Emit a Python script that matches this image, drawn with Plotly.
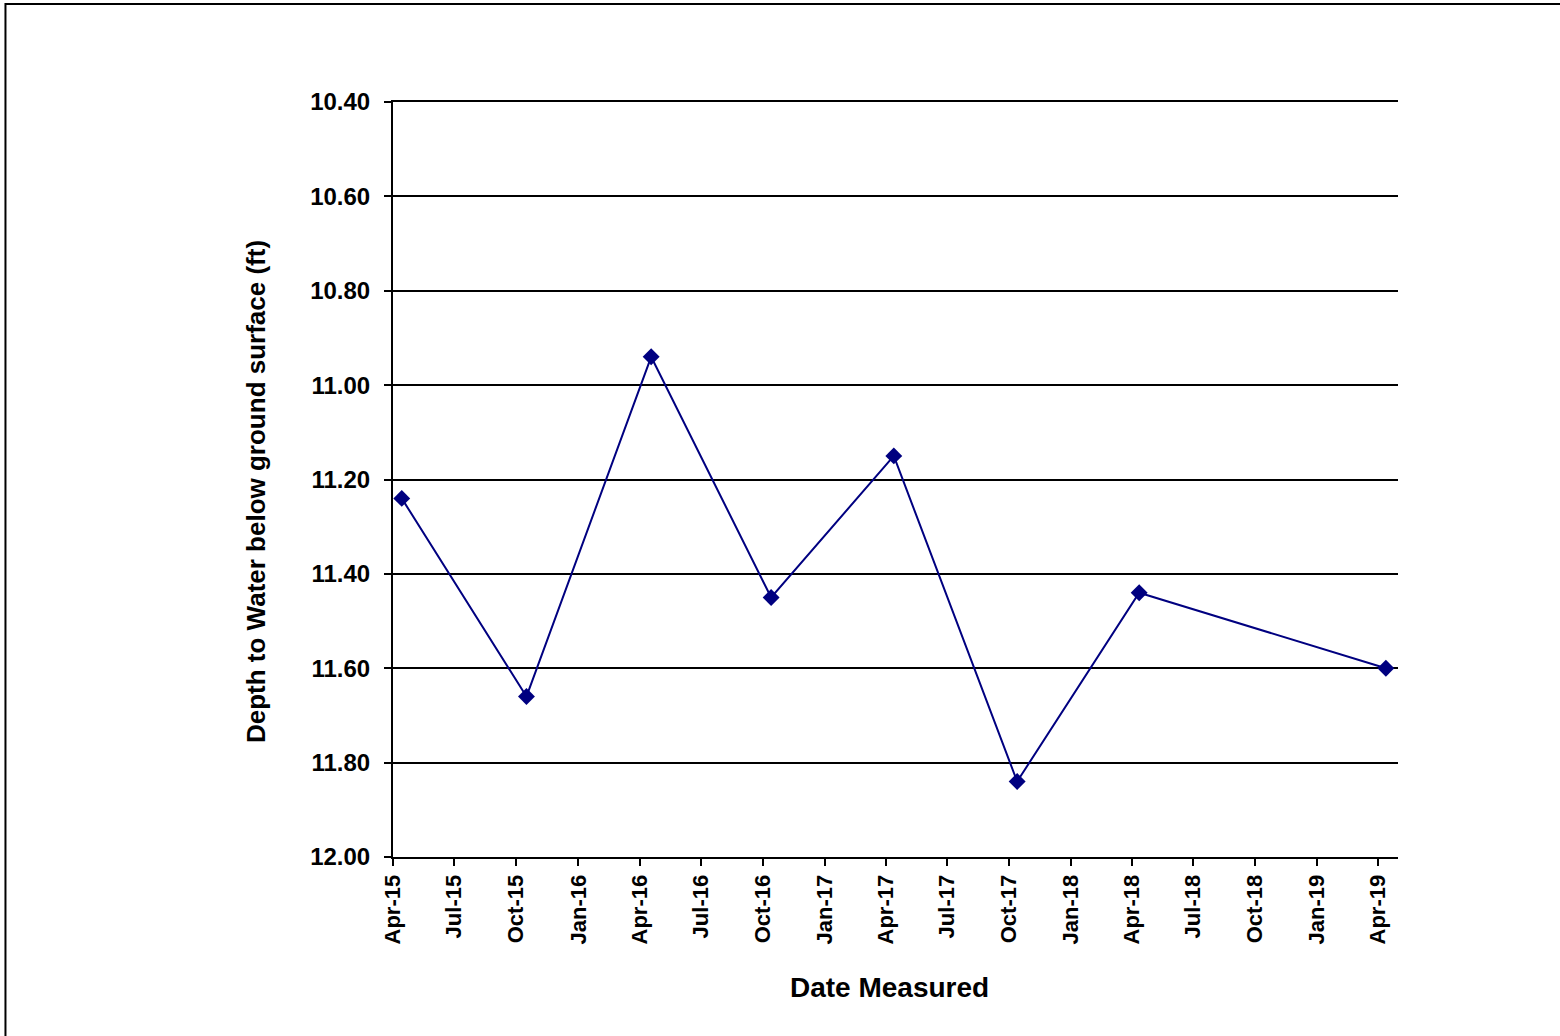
import plotly.graph_objects as go

# Depth-to-water measurements (ft below ground surface)
dates = ["2015-04-14", "2015-10-16", "2016-04-18", "2016-10-13",
         "2017-04-13", "2017-10-13", "2018-04-12", "2019-04-13"]
depths = [11.24, 11.66, 10.94, 11.45, 11.15, 11.84, 11.44, 11.60]

y_ticks = [10.40, 10.60, 10.80, 11.00, 11.20, 11.40, 11.60, 11.80, 12.00]

FONT = "Liberation Sans, Arial, sans-serif"

fig = go.Figure(
    go.Scatter(
        x=dates, y=depths, mode="lines+markers",
        line=dict(color="#000080", width=2),
        marker=dict(symbol="diamond", size=13, color="#000080"),
        showlegend=False,
    )
)

fig.update_layout(
    width=1560, height=1036,
    margin=dict(l=393, r=162, t=102, b=179),
    paper_bgcolor="white", plot_bgcolor="white",
    font=dict(family=FONT, color="black"),
    # outer chart frame
    shapes=[dict(type="rect", xref="paper", yref="paper",
                 x0=-0.3856, x1=1.3, y0=-0.4, y1=1.1298,
                 line=dict(color="black", width=2), fillcolor="rgba(0,0,0,0)",
                 layer="below")],
    annotations=[
        dict(text="<b>Depth to Water below ground surface (ft)</b>",
             xref="paper", yref="paper", x=-0.1363, y=0.4834,
             textangle=-90, showarrow=False, xanchor="center", yanchor="middle",
             font=dict(size=26, family=FONT, color="black")),
        dict(text="<b>Date Measured</b>",
             xref="paper", yref="paper", x=0.4945, y=-0.1735,
             showarrow=False, xanchor="center", yanchor="middle",
             font=dict(size=28, family=FONT, color="black")),
    ],
)

fig.update_xaxes(
    type="date", range=["2015-04-01", "2019-05-01"],
    tick0="2015-04-01", dtick="M3", tickformat="%b-%y",
    tickangle=-90, ticks="outside", ticklen=7, tickwidth=2, tickcolor="black",
    tickfont=dict(size=22, family=FONT, weight="bold"),
    showline=True, mirror=True, linecolor="black", linewidth=2,
    showgrid=False, zeroline=False,
)

fig.update_yaxes(
    range=[12.00, 10.40], tickvals=y_ticks,
    ticktext=[f"{v:.2f}" for v in y_ticks],
    ticks="outside", ticklen=7, tickwidth=2, tickcolor="black",
    ticklabelstandoff=9,
    tickfont=dict(size=24, family=FONT, weight="bold"),
    showline=True, linecolor="black", linewidth=2,
    showgrid=True, gridcolor="black", gridwidth=2, zeroline=False,
)

fig.write_html("out.html")
